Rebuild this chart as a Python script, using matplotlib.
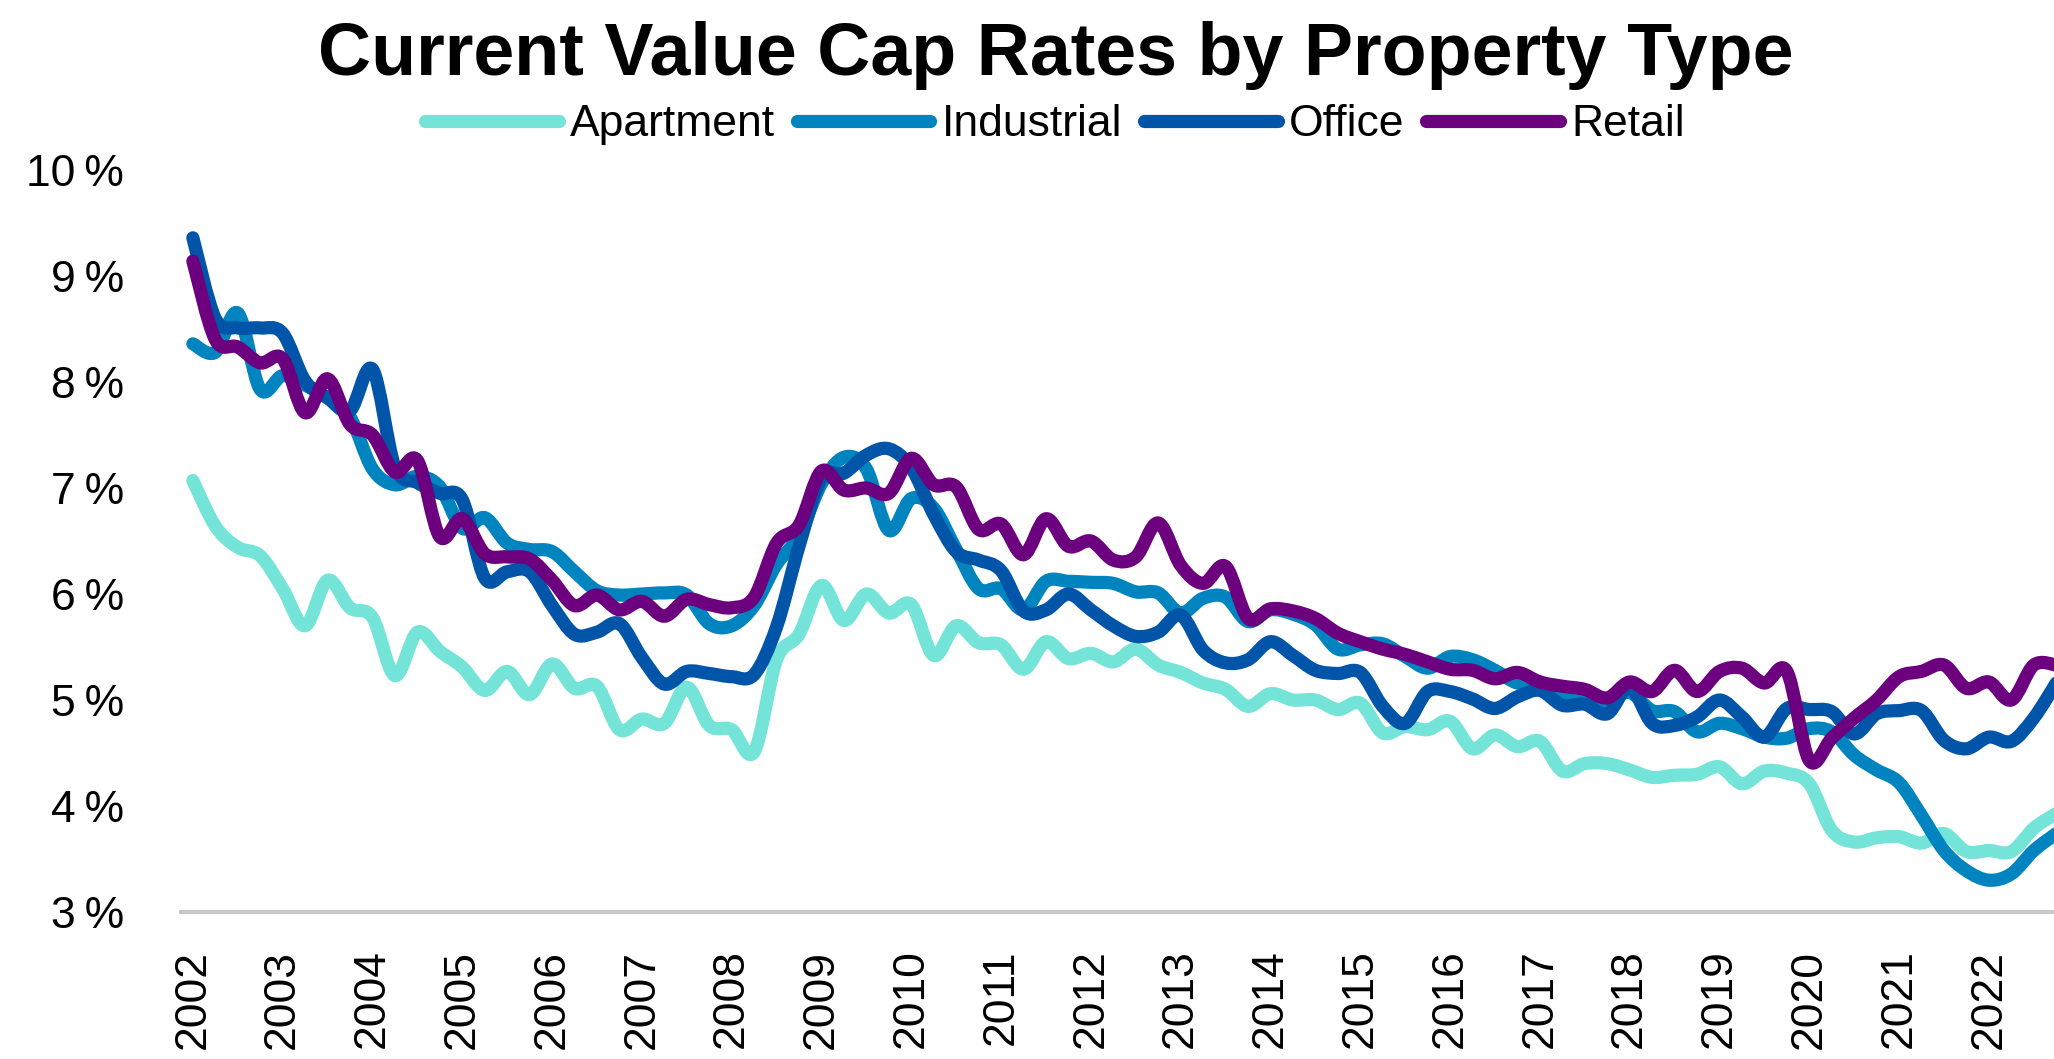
import matplotlib
matplotlib.use('Agg')
import matplotlib.pyplot as plt
from matplotlib.path import Path
from matplotlib.patches import PathPatch
from matplotlib.lines import Line2D
from matplotlib.ticker import FuncFormatter

# quarterly cap rates (%), 2002Q1 .. 2022Q4
years = list(range(2002, 2023))

apartment = [7.07, 6.64, 6.44, 6.36, 6.05, 5.70, 6.13, 5.87, 5.78, 5.23, 5.64, 5.46,
             5.31, 5.09, 5.27, 5.05, 5.34, 5.11, 5.13, 4.72, 4.82, 4.78, 5.12, 4.76,
             4.72, 4.51, 5.38, 5.62, 6.08, 5.75, 6.00, 5.82, 5.90, 5.42, 5.70, 5.54,
             5.52, 5.29, 5.55, 5.39, 5.44, 5.36, 5.48, 5.33, 5.26, 5.16, 5.10, 4.94,
             5.06, 5.00, 5.00, 4.91, 4.97, 4.69, 4.75, 4.72, 4.80, 4.54, 4.67, 4.56,
             4.61, 4.33, 4.40, 4.40, 4.34, 4.27, 4.29, 4.30, 4.37, 4.21, 4.33, 4.31,
             4.21, 3.77, 3.66, 3.70, 3.71, 3.65, 3.74, 3.57, 3.58, 3.57, 3.79, 3.93]

industrial = [8.36, 8.28, 8.65, 7.93, 8.06, 7.97, 7.85, 7.67, 7.18, 7.03, 7.11, 7.01,
              6.62, 6.72, 6.48, 6.42, 6.40, 6.21, 6.03, 5.99, 6.00, 6.01, 5.99, 5.72,
              5.70, 5.89, 6.28, 6.55, 7.04, 7.29, 7.18, 6.60, 6.90, 6.81, 6.42, 6.05,
              6.05, 5.85, 6.12, 6.12, 6.11, 6.10, 6.02, 6.01, 5.82, 5.96, 5.97, 5.74,
              5.85, 5.81, 5.71, 5.48, 5.52, 5.53, 5.41, 5.30, 5.41, 5.38, 5.28, 5.16,
              5.17, 5.03, 5.00, 4.99, 5.07, 4.90, 4.89, 4.70, 4.78, 4.73, 4.65, 4.64,
              4.73, 4.70, 4.48, 4.34, 4.22, 3.91, 3.58, 3.39, 3.30, 3.36, 3.58, 3.74]

office = [9.36, 8.60, 8.51, 8.51, 8.46, 8.01, 7.85, 7.73, 8.12, 7.20, 7.05, 6.95,
          6.89, 6.15, 6.21, 6.21, 5.89, 5.62, 5.64, 5.72, 5.40, 5.15, 5.27, 5.25,
          5.22, 5.24, 5.69, 6.45, 7.09, 7.14, 7.31, 7.37, 7.19, 6.75, 6.40, 6.32,
          6.22, 5.84, 5.85, 6.00, 5.85, 5.70, 5.60, 5.64, 5.80, 5.47, 5.35, 5.38,
          5.55, 5.42, 5.28, 5.25, 5.26, 4.94, 4.78, 5.08, 5.08, 5.01, 4.92, 5.03,
          5.09, 4.95, 4.96, 4.87, 5.12, 4.78, 4.76, 4.84, 5.00, 4.84, 4.65, 4.92,
          4.91, 4.89, 4.68, 4.87, 4.90, 4.90, 4.62, 4.54, 4.65, 4.61, 4.83, 5.16]

retail = [9.14, 8.40, 8.33, 8.18, 8.22, 7.71, 8.03, 7.60, 7.50, 7.15, 7.26, 6.54,
          6.71, 6.38, 6.35, 6.33, 6.13, 5.89, 5.99, 5.85, 5.93, 5.79, 5.95, 5.90,
          5.87, 5.97, 6.48, 6.65, 7.16, 6.98, 7.00, 6.95, 7.28, 7.03, 7.01, 6.61,
          6.66, 6.37, 6.71, 6.45, 6.50, 6.32, 6.35, 6.67, 6.27, 6.10, 6.26, 5.77,
          5.86, 5.84, 5.77, 5.63, 5.55, 5.48, 5.43, 5.36, 5.29, 5.28, 5.20, 5.26,
          5.17, 5.13, 5.10, 5.02, 5.17, 5.08, 5.28, 5.08, 5.27, 5.30, 5.16, 5.27,
          4.43, 4.64, 4.83, 5.00, 5.22, 5.27, 5.33, 5.11, 5.17, 5.00, 5.33, 5.33]

quarters = list(range(len(apartment)))

series = [('Apartment', apartment, '#74E4D8'),
          ('Industrial', industrial, '#0084BF'),
          ('Office', office, '#0055A8'),
          ('Retail', retail, '#6C007F')]

LW = 9.5


def smooth_path(xs, ys):
    # spreadsheet-style smoothed line: cubic bezier through every point
    n = len(xs)
    verts = [(xs[0], ys[0])]
    codes = [Path.MOVETO]
    for i in range(n - 1):
        x0, y0 = xs[max(i - 1, 0)], ys[max(i - 1, 0)]
        x1, y1 = xs[i], ys[i]
        x2, y2 = xs[i + 1], ys[i + 1]
        x3, y3 = xs[min(i + 2, n - 1)], ys[min(i + 2, n - 1)]
        verts += [(x1 + (x2 - x0) / 6, y1 + (y2 - y0) / 6),
                  (x2 - (x3 - x1) / 6, y2 - (y3 - y1) / 6),
                  (x2, y2)]
        codes += [Path.CURVE4] * 3
    return Path(verts, codes)


plt.rcParams['font.family'] = ['Liberation Sans', 'DejaVu Sans']

fig = plt.figure(figsize=(20.54, 10.59), dpi=100)
ax = fig.add_axes([0.0881, 0.1388, 0.9119, 0.7007])

handles = []
for name, vals, col in series:
    ax.add_patch(PathPatch(smooth_path(quarters, vals), fill=False, edgecolor=col,
                           lw=LW, capstyle='round', joinstyle='round'))
    handles.append(Line2D([], [], color=col, lw=LW, solid_capstyle='round'))

ax.set_xlim(-0.53, 82.9)
ax.set_ylim(3, 10)
ax.set_yticks(range(3, 11))
ax.yaxis.set_major_formatter(FuncFormatter(lambda v, p: '%d\u2009%%' % v))
ax.set_xticks([4 * i for i in range(len(years))])
ax.set_xticklabels([str(y) for y in years], rotation=90, va='top')

ax.tick_params(axis='x', length=0, pad=27, labelsize=32)
ax.tick_params(axis='y', length=0, pad=41, labelsize=32)

for s in ['top', 'right', 'left']:
    ax.spines[s].set_visible(False)
ax.spines['bottom'].set_color('#C8C8C8')
ax.spines['bottom'].set_linewidth(3)

fig.text(0.514, 0.929, 'Current Value Cap Rates by Property Type',
         ha='center', va='baseline', fontsize=53, fontweight='bold')

fig.legend(handles, [s[0] for s in series], loc='center',
           bbox_to_anchor=(0.5136, 0.882), ncol=4, frameon=False, fontsize=32,
           handlelength=3.0, handletextpad=0.25, columnspacing=0.5)

fig.savefig('out.png', dpi=100)
